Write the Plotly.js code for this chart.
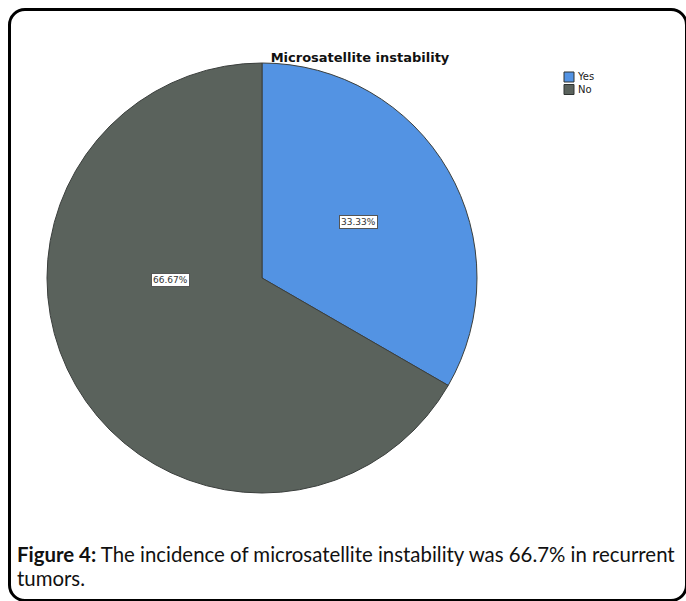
<!DOCTYPE html>
<html>
<head>
<meta charset="utf-8">
<script src="https://cdn.plot.ly/plotly-3.0.1.min.js"></script>
<style>
  html, body { margin: 0; padding: 0; background: #ffffff; }
  #wrap { position: relative; width: 686px; height: 601px; overflow: hidden; }
  #chart { position: absolute; left: 0; top: 0; width: 686px; height: 601px; }
  #frame { position: absolute; left: 8px; top: 8px; width: 674px; height: 588px;
           border: 3px solid #000; border-radius: 17px; pointer-events: none; }
</style>
</head>
<body>
<div id="wrap">
  <div id="chart"></div>
  <div id="frame"></div>
</div>
<script>
const categories = ["Yes", "No"];
const values = [33.33, 66.67];
const sliceLabels = ["33.33%", "66.67%"];
const colors = ["#5393e3", "#5a625c"];
const chartTitle = "Microsatellite instability";
const captionLines = [
  "<b>Figure 4:</b> The incidence of microsatellite instability was 66.7% in recurrent",
  "tumors."
];

const W = 686, H = 601;
const px = x => x / W;
const py = y => 1 - y / H;

const trace = {
  type: "pie",
  labels: categories,
  values: values,
  sort: false,
  direction: "clockwise",
  rotation: 0,
  textinfo: "none",
  hoverinfo: "skip",
  marker: { colors: colors, line: { color: "#3b3f3d", width: 1 } },
  domain: { x: [px(47), px(477)], y: [py(493), py(63)] },
  showlegend: false
};

// label positions for boxed percentage labels
const labelPos = [[358, 222], [170, 280]];
const annotations = sliceLabels.map((t, i) => ({
  text: t, xref: "paper", yref: "paper",
  x: px(labelPos[i][0]), y: py(labelPos[i][1]),
  xanchor: "center", yanchor: "middle", showarrow: false,
  font: { family: "DejaVu Sans", size: 9, color: "#333" },
  bgcolor: "#ffffff", bordercolor: "#555", borderwidth: 1, borderpad: 1
}));

// legend (custom, to match compact swatch/text spacing)
const legendY = [77, 89.5];
const shapes = [];
categories.forEach((c, i) => {
  shapes.push({
    type: "rect", xref: "paper", yref: "paper",
    x0: px(564), x1: px(574), y0: py(legendY[i] - 5), y1: py(legendY[i] + 5),
    fillcolor: colors[i], line: { color: "#2f3331", width: 1 }
  });
});
annotations.push({
  text: categories.join("<br>"), xref: "paper", yref: "paper",
  x: px(576), y: py((legendY[0] + legendY[1]) / 2), xanchor: "left", yanchor: "middle",
  align: "left", showarrow: false, borderpad: 0,
  font: { family: "DejaVu Sans", size: 10, color: "#222" }
});

// caption
const captionY = [554, 578];
captionLines.forEach((t, i) => {
  annotations.push({
    text: t, xref: "paper", yref: "paper",
    x: px(15), y: py(captionY[i]), xanchor: "left", yanchor: "middle", align: "left",
    showarrow: false, font: { family: "Lato", size: 20.4, color: "#111" }
  });
});

const layout = {
  width: W, height: H,
  margin: { l: 0, r: 0, t: 0, b: 0 },
  paper_bgcolor: "#ffffff",
  title: {
    text: "<b>" + chartTitle + "</b>",
    x: px(360), xanchor: "center", y: py(57), yanchor: "middle",
    xref: "paper", yref: "paper",
    font: { family: "DejaVu Sans", size: 13, color: "#111" }
  },
  showlegend: false,
  shapes: shapes,
  annotations: annotations
};

Plotly.newPlot("chart", [trace], layout, { displayModeBar: false, staticPlot: true });
</script>
</body>
</html>
